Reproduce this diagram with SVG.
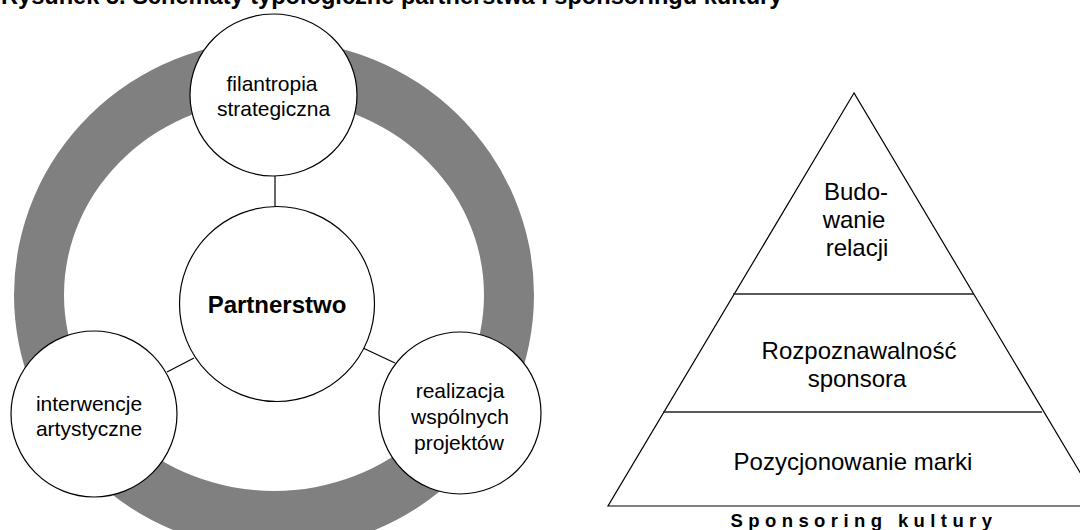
<svg xmlns="http://www.w3.org/2000/svg" width="1080" height="530" viewBox="0 0 1080 530">
  <style>
    .bg { fill: #ffffff; }
    .ring { fill: #808080; fill-rule: evenodd; }
    .node { fill: #ffffff; stroke: #000000; stroke-width: 1.2; }
    .link { stroke: #000000; stroke-width: 1.2; fill: none; }
    .txt { font-family: "Liberation Sans", Arial, sans-serif; fill: #000000; text-anchor: middle; }
    .small { font-size: 21px; }
    .label { font-size: 24px; }
    .bold { font-weight: bold; }
    .pyr { fill: #ffffff; stroke: #000000; stroke-width: 1.2; }
    .tier { stroke: #222222; stroke-width: 1.5; }
  </style>
  <rect class="bg" x="0" y="0" width="1080" height="530"/>

  <!-- figure caption (top edge) -->
  <text class="txt bold" x="1" y="4" font-size="23.6" style="text-anchor:start">Rysunek 5. Schematy typologiczne partnerstwa i sponsoringu kultury</text>

  <!-- grey ring behind the partnership model -->
  <path id="ring" class="ring" d="M 14 295 A 260 255 0 1 0 534 295 A 260 255 0 1 0 14 295 Z M 64 295 A 210 196 0 1 0 484 295 A 210 196 0 1 0 64 295 Z"/>

  <!-- connectors -->
  <g id="connectors">
    <line class="link" x1="275" y1="175" x2="275" y2="207"/>
    <line class="link" x1="167" y1="372" x2="194" y2="358"/>
    <line class="link" x1="363" y1="348" x2="395" y2="363"/>
  </g>

  <g id="node-filantropia">
    <ellipse class="node" cx="273.5" cy="95" rx="83.5" ry="81"/>
    <text class="txt small" x="272" y="91">filantropia</text>
    <text class="txt small" x="273.5" y="116">strategiczna</text>
  </g>

  <g id="node-partnerstwo">
    <circle class="node" cx="277" cy="304" r="97.5"/>
    <text class="txt label bold" x="277" y="313">Partnerstwo</text>
  </g>

  <g id="node-interwencje">
    <circle class="node" cx="94" cy="414" r="83"/>
    <text class="txt small" x="89" y="411">interwencje</text>
    <text class="txt small" x="89" y="436">artystyczne</text>
  </g>

  <g id="node-realizacja">
    <circle class="node" cx="460" cy="413" r="81"/>
    <text class="txt small" x="460" y="398">realizacja</text>
    <text class="txt small" x="460" y="424">wspólnych</text>
    <text class="txt small" x="459" y="450">projektów</text>
  </g>

  <!-- sponsorship pyramid -->
  <g id="pyramid">
    <polygon class="pyr" points="854,93 608,506 1100,506"/>
    <line class="tier" x1="733" y1="294" x2="974" y2="294"/>
    <line class="tier" x1="663" y1="412" x2="1042" y2="412"/>
  </g>

  <g id="tier-relacje">
    <text class="txt label" x="856" y="200">Budo-</text>
    <text class="txt label" x="854" y="228">wanie</text>
    <text class="txt label" x="857" y="256">relacji</text>
  </g>

  <g id="tier-rozpoznawalnosc">
    <text class="txt label" x="859" y="359">Rozpoznawalność</text>
    <text class="txt label" x="857" y="387">sponsora</text>
  </g>

  <g id="tier-pozycjonowanie">
    <text class="txt label" x="853" y="470">Pozycjonowanie marki</text>
  </g>

  <text class="txt bold" x="864" y="527" font-size="18.5" letter-spacing="5.4">Sponsoring kultury</text>
</svg>
